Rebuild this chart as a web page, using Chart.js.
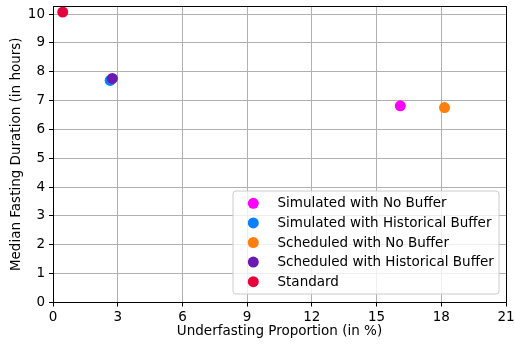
<!DOCTYPE html>
<html>
<head>
<meta charset="utf-8">
<script src="https://cdn.jsdelivr.net/npm/chart.js@4/dist/chart.umd.min.js"></script>
<style>
  html, body { margin: 0; padding: 0; background: #fff; }
  #wrap { width: 514px; height: 344px; }
</style>
</head>
<body>
<div id="wrap"><canvas id="c" width="514" height="344"></canvas></div>
<script>
// Strategy results: underfasting proportion (%) vs median fasting duration (h)
const seriesNames = [
  'Simulated with No Buffer',
  'Simulated with Historical Buffer',
  'Scheduled with No Buffer',
  'Scheduled with Historical Buffer',
  'Standard'
];
const underfastingPct = [16.1, 2.65, 18.15, 2.75, 0.45];
const medianFastingHours = [6.82, 7.70, 6.76, 7.77, 10.07];
const seriesColors = ['#ff00ff', '#0a80ff', '#ff7f0e', '#6a1ab0', '#e8003c'];

const xTicks = [0, 3, 6, 9, 12, 15, 18, 21];
const yTicks = [0, 1, 2, 3, 4, 5, 6, 7, 8, 9, 10];

const FONT = 'DejaVu Sans';
const FONT_SIZE = 13.5;

const datasets = seriesNames.map((name, i) => ({
  label: name,
  data: [{ x: underfastingPct[i], y: medianFastingHours[i] }],
  backgroundColor: seriesColors[i],
  borderWidth: 0,
  pointRadius: 5.5,
  pointHoverRadius: 5.5,
  order: -i
}));

// Frame on all four sides plus a boxed legend inside the plot area
const framePlugin = {
  id: 'frameAndLegend',
  afterDraw(chart) {
    const { ctx, chartArea: a } = chart;
    ctx.save();
    ctx.strokeStyle = '#000';
    ctx.lineWidth = 1;
    const l = Math.round(a.left) + 0.5;
    const t = Math.round(a.top) + 0.5;
    const r0 = Math.round(a.right) + 0.5;
    const b = Math.round(a.bottom) - 0.5;
    ctx.strokeRect(l, t, r0 - l, b - t);

    // legend box
    const bx = 233, by = 191, bw = 266, bh = 103, r = 3;
    ctx.beginPath();
    ctx.moveTo(bx + r, by);
    ctx.arcTo(bx + bw, by, bx + bw, by + bh, r);
    ctx.arcTo(bx + bw, by + bh, bx, by + bh, r);
    ctx.arcTo(bx, by + bh, bx, by, r);
    ctx.arcTo(bx, by, bx + bw, by, r);
    ctx.closePath();
    ctx.fillStyle = 'rgba(255,255,255,0.8)';
    ctx.fill();
    ctx.strokeStyle = '#cccccc';
    ctx.stroke();

    ctx.font = FONT_SIZE + 'px "' + FONT + '"';
    ctx.textBaseline = 'middle';
    ctx.textAlign = 'left';
    seriesNames.forEach((name, i) => {
      const cy = 203.3 + i * 19.6;
      ctx.beginPath();
      ctx.arc(253.3, cy, 5.5, 0, Math.PI * 2);
      ctx.fillStyle = seriesColors[i];
      ctx.fill();
      ctx.fillStyle = '#000';
      ctx.fillText(name, 277.5, cy + 0.5);
    });
    ctx.restore();
  }
};

new Chart(document.getElementById('c'), {
  type: 'scatter',
  data: { datasets },
  plugins: [framePlugin],
  options: {
    responsive: false,
    animation: false,
    events: [],
    layout: { padding: { top: 6, right: 8, left: 0, bottom: 0 } },
    plugins: {
      legend: { display: false },
      tooltip: { enabled: false }
    },
    scales: {
      x: {
        type: 'linear',
        min: 0,
        max: 21,
        afterBuildTicks: s => { s.ticks = xTicks.map(v => ({ value: v })); },
        afterFit: s => { s.height = 41.5; s.paddingLeft = 0; s.paddingRight = 0; },
        ticks: {
          color: '#000',
          font: { family: FONT, size: FONT_SIZE },
          padding: 3,
          maxRotation: 0,
          autoSkip: false
        },
        grid: { color: '#b0b0b0', lineWidth: 1, tickColor: '#000', tickLength: 4 },
        border: { display: false },
        title: {
          display: true,
          text: 'Underfasting Proportion (in %)',
          color: '#000',
          font: { family: FONT, size: FONT_SIZE },
          padding: { top: 0, bottom: 4 }
        }
      },
      y: {
        type: 'linear',
        min: 0,
        max: 10.28,
        afterBuildTicks: s => { s.ticks = yTicks.map(v => ({ value: v })); },
        afterFit: s => { s.width = 53; s.paddingTop = 0; s.paddingBottom = 0; },
        ticks: {
          color: '#000',
          font: { family: FONT, size: FONT_SIZE },
          padding: 4,
          autoSkip: false
        },
        grid: { color: '#b0b0b0', lineWidth: 1, tickColor: '#000', tickLength: 4 },
        border: { display: false },
        title: {
          display: true,
          text: 'Median Fasting Duration (in hours)',
          color: '#000',
          font: { family: FONT, size: FONT_SIZE },
          padding: { top: 8, bottom: 0 }
        }
      }
    }
  }
});
</script>
</body>
</html>
